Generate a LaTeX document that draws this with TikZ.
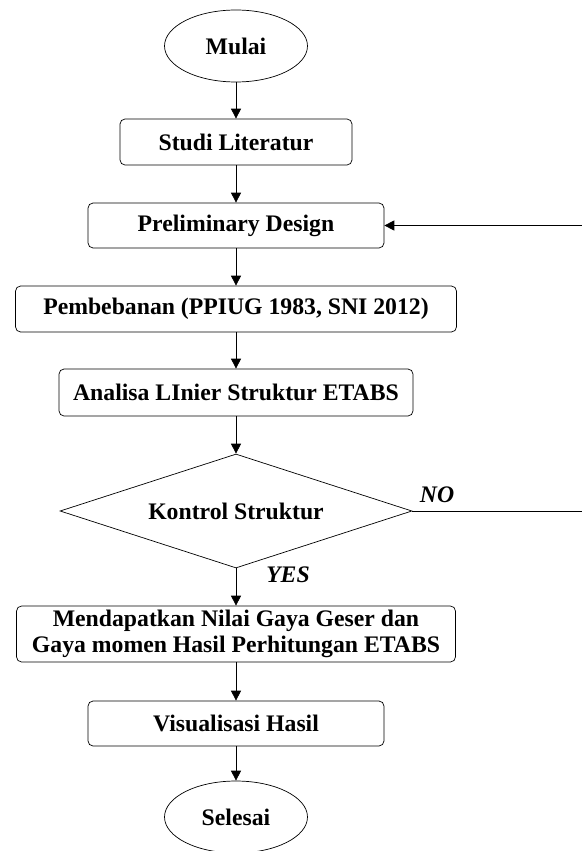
\documentclass[tikz,border=0pt]{standalone}
\usepackage{fontspec}
\setmainfont{Liberation Serif}
\usetikzlibrary{shapes.geometric,arrows.meta}

\begin{document}
\begin{tikzpicture}[x=0.02cm, y=-0.02cm,
    every node/.style={font=\fontsize{13.5}{14.5}\selectfont\bfseries},
    stepbox/.style={draw, rounded corners=1mm, align=center, inner sep=0pt},
    terminal/.style={draw, ellipse, inner sep=0pt, minimum width=2.86cm, minimum height=1.44cm},
    decision/.style={draw, diamond, inner sep=0pt, aspect=3.09, minimum width=7.04cm, minimum height=2.28cm},
    answer/.style={font=\fontsize{13.5}{14.5}\selectfont\bfseries\itshape},
    flow/.style={-{Triangle[length=2mm, width=2mm]}}]
  \useasboundingbox (0,0) rectangle (581,851);

  \node[terminal] (mulai) at (236,46) {Mulai};
  \node[stepbox, minimum width=4.64cm, minimum height=0.92cm] (studi) at (236,142) {Studi Literatur};
  \node[stepbox, minimum width=5.92cm, minimum height=0.9cm] (prelim) at (236,225.5) {Preliminary Design};
  \node[stepbox, minimum width=8.82cm, minimum height=0.92cm] (beban) at (236,309) {Pembebanan (PPIUG 1983, SNI 2012)};
  \node[stepbox, minimum width=7.08cm, minimum height=0.94cm] (analisa) at (236,392.5) {Analisa LInier Struktur ETABS};
  \node[decision] (kontrol) at (236,511) {Kontrol Struktur};
  \node[stepbox, minimum width=8.78cm, minimum height=1.12cm] (hasil) at (236,634)
    {Mendapatkan Nilai Gaya Geser dan\\Gaya momen Hasil Perhitungan ETABS};
  \node[stepbox, minimum width=5.92cm, minimum height=0.9cm] (visual) at (236,723.5) {Visualisasi Hasil};
  \node[terminal] (selesai) at (236,817) {Selesai};

  \node[answer] (no) at (437,495) {NO};
  \node[answer] (yes) at (288,575) {YES};
  \coordinate (balik) at (583,511);

  \draw[flow] (mulai) -- (studi);
  \draw[flow] (studi) -- (prelim);
  \draw[flow] (prelim) -- (beban);
  \draw[flow] (beban) -- (analisa);
  \draw[flow] (analisa) -- (kontrol);
  \draw[flow] (kontrol) -- (hasil);
  \draw[flow] (hasil) -- (visual);
  \draw[flow] (visual) -- (selesai);
  \draw[flow] (kontrol.east) -- (balik) |- (prelim.east);
\end{tikzpicture}
\end{document}
